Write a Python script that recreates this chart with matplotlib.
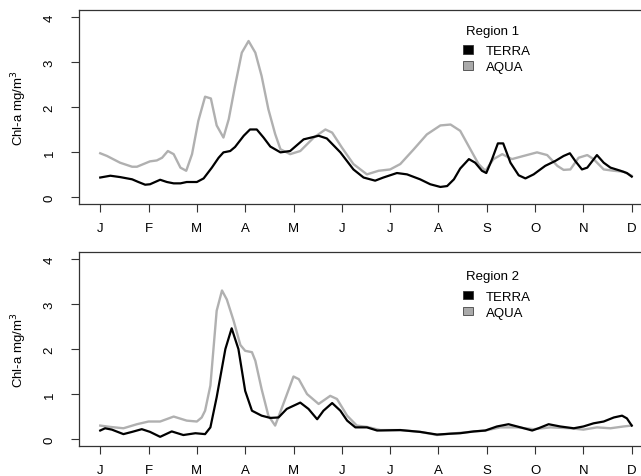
import numpy as np
import matplotlib
matplotlib.use("Agg")
import matplotlib.pyplot as plt
from matplotlib.patches import Patch

plt.rcParams['font.family'] = ['Liberation Sans', 'DejaVu Sans']

# Month labels (J = 0 ... D = 11)
months = ['J', 'F', 'M', 'A', 'M', 'J', 'J', 'A', 'S', 'O', 'N', 'D']

# Region 1 - TERRA (x in months, chl-a)
r1_terra_x = [0, 0.21, 0.41, 0.66, 0.79, 0.93, 1.03, 1.24, 1.38, 1.52, 1.66, 1.79, 2.0, 2.14,
              2.31, 2.45, 2.55, 2.69, 2.79, 2.97, 3.10, 3.24, 3.38, 3.52, 3.73, 3.93, 4.21, 4.52,
              4.69, 4.97, 5.24, 5.45, 5.69, 5.86, 6.14, 6.35, 6.62, 6.83, 7.04, 7.18, 7.32, 7.45,
              7.63, 7.76, 7.90, 7.99, 8.11, 8.23, 8.34, 8.49, 8.66, 8.80, 8.97, 9.21, 9.42, 9.59,
              9.72, 9.83, 9.97, 10.08, 10.28, 10.42, 10.56, 10.77, 10.90, 11.0]
r1_terra_y = [0.43, 0.47, 0.44, 0.39, 0.33, 0.27, 0.28, 0.38, 0.33, 0.30, 0.30, 0.33, 0.33, 0.41,
              0.65, 0.87, 0.99, 1.02, 1.11, 1.36, 1.50, 1.50, 1.32, 1.12, 0.99, 1.02, 1.28, 1.36,
              1.30, 0.99, 0.61, 0.43, 0.36, 0.43, 0.53, 0.50, 0.39, 0.28, 0.22, 0.24, 0.39, 0.63,
              0.84, 0.76, 0.58, 0.53, 0.84, 1.19, 1.19, 0.76, 0.48, 0.41, 0.50, 0.69, 0.80, 0.91,
              0.97, 0.80, 0.61, 0.65, 0.93, 0.76, 0.65, 0.58, 0.53, 0.45]

# Region 1 - AQUA
r1_aqua_x = [0, 0.14, 0.41, 0.66, 0.76, 1.03, 1.17, 1.28, 1.40, 1.52, 1.66, 1.78, 1.90, 2.03,
             2.17, 2.29, 2.41, 2.55, 2.66, 2.79, 2.93, 3.07, 3.21, 3.34, 3.48, 3.62, 3.73, 3.93,
             4.14, 4.42, 4.66, 4.80, 5.00, 5.24, 5.52, 5.76, 6.0, 6.21, 6.49, 6.76, 7.04, 7.25,
             7.45, 7.66, 7.83, 7.97, 8.14, 8.32, 8.52, 8.76, 9.04, 9.25, 9.46, 9.59, 9.73, 9.90,
             10.08, 10.21, 10.42, 10.63, 10.83, 11.0]
r1_aqua_y = [0.97, 0.91, 0.76, 0.67, 0.67, 0.79, 0.81, 0.87, 1.02, 0.95, 0.65, 0.58, 0.95, 1.69,
             2.23, 2.19, 1.59, 1.32, 1.73, 2.47, 3.21, 3.47, 3.21, 2.69, 1.95, 1.40, 1.06, 0.95,
             1.02, 1.32, 1.50, 1.43, 1.10, 0.73, 0.50, 0.58, 0.61, 0.73, 1.06, 1.39, 1.59, 1.61,
             1.47, 1.06, 0.73, 0.58, 0.84, 0.95, 0.84, 0.91, 0.99, 0.93, 0.69, 0.60, 0.61, 0.87,
             0.93, 0.84, 0.61, 0.58, 0.56, 0.47]

# Region 2 - TERRA
r2_terra_x = [0, 0.10, 0.24, 0.48, 0.66, 0.86, 1.03, 1.24, 1.48, 1.72, 1.97, 2.17, 2.28, 2.41,
              2.59, 2.72, 2.86, 3.0, 3.14, 3.34, 3.52, 3.69, 3.86, 4.14, 4.31, 4.49, 4.62, 4.80,
              4.97, 5.11, 5.28, 5.52, 5.73, 6.21, 6.62, 6.97, 7.25, 7.45, 7.73, 7.97, 8.21, 8.45,
              8.70, 8.94, 9.07, 9.28, 9.52, 9.80, 10.0, 10.21, 10.42, 10.63, 10.80, 10.90, 11.0]
r2_terra_y = [0.19, 0.24, 0.21, 0.11, 0.16, 0.22, 0.16, 0.05, 0.17, 0.09, 0.13, 0.11, 0.26, 0.93,
              2.0, 2.46, 2.0, 1.07, 0.63, 0.52, 0.47, 0.48, 0.67, 0.81, 0.67, 0.44, 0.63, 0.80,
              0.63, 0.41, 0.26, 0.26, 0.19, 0.20, 0.16, 0.10, 0.12, 0.13, 0.17, 0.19, 0.28, 0.33,
              0.26, 0.19, 0.24, 0.33, 0.28, 0.24, 0.28, 0.35, 0.39, 0.48, 0.52, 0.46, 0.30]

# Region 2 - AQUA
r2_aqua_x = [0, 0.21, 0.48, 0.76, 1.0, 1.24, 1.52, 1.79, 2.0, 2.10, 2.17, 2.28, 2.41, 2.52,
             2.62, 2.76, 2.90, 3.0, 3.14, 3.21, 3.34, 3.48, 3.62, 3.80, 4.0, 4.11, 4.28, 4.52,
             4.76, 4.90, 5.11, 5.31, 5.52, 5.80, 6.21, 6.62, 6.97, 7.25, 7.66, 7.97, 8.28, 8.62,
             8.97, 9.32, 9.73, 10.0, 10.28, 10.56, 10.83, 11.0]
r2_aqua_y = [0.30, 0.27, 0.24, 0.33, 0.39, 0.39, 0.50, 0.41, 0.39, 0.48, 0.63, 1.19, 2.85, 3.30,
             3.10, 2.63, 2.09, 1.96, 1.93, 1.74, 1.11, 0.52, 0.30, 0.81, 1.39, 1.33, 1.0, 0.78,
             0.96, 0.89, 0.52, 0.30, 0.27, 0.20, 0.20, 0.16, 0.09, 0.12, 0.16, 0.19, 0.26, 0.26,
             0.22, 0.26, 0.24, 0.21, 0.26, 0.24, 0.28, 0.30]

regions = [
    ("Region 1", r1_terra_x, r1_terra_y, r1_aqua_x, r1_aqua_y),
    ("Region 2", r2_terra_x, r2_terra_y, r2_aqua_x, r2_aqua_y),
]

aqua_col = '#b0b0b0'
axis_col = '#333333'

fig = plt.figure(figsize=(6.41, 4.77), dpi=100)

# axes boxes in figure fractions (right edge runs off the picture like the original)
boxes = [[0.1232, 0.5702, 0.8955, 0.4067],
         [0.1232, 0.0623, 0.8955, 0.4078]]
title_y = [0.892, 0.877]
leg_y = [0.82, 0.80]

for k in range(0, len(regions)):
    name, tx, ty, ax_x, ax_y = regions[k]
    ax = fig.add_axes(boxes[k])
    ax.plot(ax_x, ax_y, color=aqua_col, lw=1.7, solid_joinstyle='round')
    ax.plot(tx, ty, color='black', lw=1.6, solid_joinstyle='round')

    ax.set_xlim(-0.44, 11.44)
    ax.set_ylim(-0.16, 4.16)
    ax.set_xticks(np.arange(len(months)))
    ax.set_xticklabels(months)
    ax.set_yticks([0, 1, 2, 3, 4])
    ax.set_yticklabels(['0', '1', '2', '3', '4'], rotation=90, va='center')

    for s in ax.spines.values():
        s.set_color(axis_col)
        s.set_linewidth(0.9)
    ax.tick_params(direction='out', length=5.8, width=0.8, color=axis_col,
                   labelsize=9.5, labelcolor='black')
    ax.tick_params(axis='x', pad=7)
    ax.tick_params(axis='y', pad=11)

    ax.set_ylabel('Chl-a mg/m$^3$', fontsize=9.5)
    ax.yaxis.set_label_coords(-0.087, 0.5)

    # legend: title as plain text, entries below it
    ax.text(0.721, title_y[k], name, transform=ax.transAxes, ha='center', va='center',
            fontsize=9.5)
    handles = [Patch(facecolor='black', edgecolor='#333333', lw=0.6, label='TERRA'),
               Patch(facecolor='#aaaaaa', edgecolor='#444444', lw=0.6, label='AQUA')]
    ax.legend(handles=handles, loc='upper left', bbox_to_anchor=(0.669, leg_y[k]),
              frameon=False, fontsize=9.5, handlelength=0.75, handleheight=0.65,
              handletextpad=1.0, labelspacing=0.3, borderpad=0, borderaxespad=0)

fig.savefig('out.png', dpi=100)
